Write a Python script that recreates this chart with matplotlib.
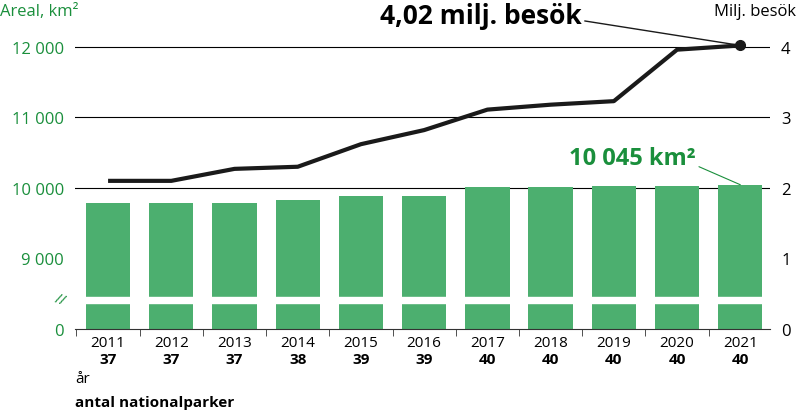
import matplotlib
matplotlib.use("Agg")
import matplotlib.pyplot as plt
plt.rcParams["font.family"] = "Open Sans"

years = ["2011","2012","2013","2014","2015","2016","2017","2018","2019","2020","2021"]
parks = [37,37,37,38,39,39,40,40,40,40,40]
area_km2 = [9790,9785,9790,9830,9880,9890,10010,10010,10030,10030,10045]
visits_milj = [2.10,2.10,2.27,2.30,2.62,2.82,3.11,3.18,3.23,3.96,4.02]
left_ticks = [0, 9000, 10000, 11000, 12000]
left_labels = ["0", "9 000", "10 000", "11 000", "12 000"]

def km_to_y(k):
    return 0 if k == 0 else 2 + (k - 10000) / 1000.0

bar_c = "#4caf6f"
txt_g = "#1a8f3c"
fig = plt.figure(figsize=(8, 4.14), dpi=100)
ax = fig.add_axes([0.094, 0.203, 0.8685, 0.724])
x = list(range(len(years)))
ax.set_xlim(-0.52, 10.47)
ax.set_ylim(0, 4.25)
for yv in [2, 3, 4]:
    ax.axhline(yv, color="black", lw=0.8, zorder=1)
ax.bar(x, [km_to_y(a) for a in area_km2], width=0.7, color=bar_c, zorder=2)
ax.axhspan(0.37, 0.46, color="white", zorder=3)
ax.plot(x, visits_milj, color="#1a1a1a", lw=3, zorder=4, solid_capstyle="butt")
ax.plot(x[-1], visits_milj[-1], "o", color="#1a1a1a", ms=7, zorder=5)

for s in ["top", "left", "right"]:
    ax.spines[s].set_visible(False)
ax.spines["bottom"].set_color("#333333")
ax.set_yticks([km_to_y(k) for k in left_ticks])
ax.set_yticklabels(left_labels, color=txt_g, fontsize=12)
ax.tick_params(axis="y", length=0, pad=8)
ax.set_xticks(x)
ax.set_xticklabels([])
ax.set_xticks([i + 0.5 for i in x[:-1]] + [-0.5], minor=True)
ax.tick_params(axis="x", which="major", length=0)
ax.tick_params(axis="x", which="minor", length=5, color="#333333")
for i in x:
    ax.text(i, -0.08, years[i], ha="center", va="top", fontsize=11)
    ax.text(i, -0.33, str(parks[i]), ha="center", va="top", fontsize=11, fontweight="bold")
ax2 = ax.twinx()
ax2.set_ylim(0, 4.25)
ax2.set_yticks([0, 1, 2, 3, 4])
ax2.set_yticklabels(["0", "1", "2", "3", "4"], fontsize=12)
ax2.tick_params(axis="y", length=0, pad=8)
for s in ax2.spines.values():
    s.set_visible(False)
fig.text(0.075, 1 - 301 / 414, "//", color=txt_g, fontsize=11, ha="center", va="center", rotation=-20)

fig.text(0.0, 0.99, "Areal, km²", color=txt_g, fontsize=12, va="top")
fig.text(0.995, 0.99, "Milj. besök", fontsize=12, va="top", ha="right")
fig.text(0.094, 1 - 380 / 414, "år", fontsize=11, va="center")
fig.text(0.094, 1 - 403 / 414, "antal nationalparker", fontsize=11, va="center", fontweight="bold")

ax.annotate("4,02 milj. besök", xy=(x[-1], visits_milj[-1]), xytext=(5.9, 4.45),
            fontsize=19, fontweight="bold", ha="center", va="center", annotation_clip=False,
            arrowprops=dict(arrowstyle="-", color="#1a1a1a", lw=1, shrinkA=0, shrinkB=3,
                            relpos=(1, 0.3)))
ax.annotate("10 045 km²", xy=(x[-1], km_to_y(area_km2[-1])), xytext=(8.3, 2.42),
            fontsize=17, fontweight="bold", color=txt_g, ha="center", va="center",
            arrowprops=dict(arrowstyle="-", color=txt_g, lw=0.8, shrinkA=0, shrinkB=0,
                            relpos=(1, 0.2)))
fig.savefig("out.png", dpi=100)
